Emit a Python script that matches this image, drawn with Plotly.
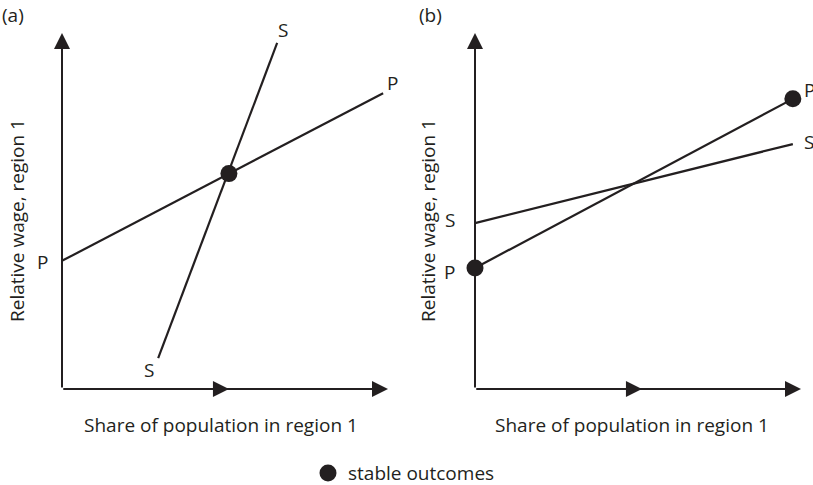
import plotly.graph_objects as go

# ---- data (abstract diagram units: origin 0, axis length 10) ----
# Panel (a)
a_P_x = [0.0, 9.85]
a_P_y = [3.6, 8.31]
a_S_x = [2.95, 6.6]
a_S_y = [0.87, 9.72]
a_stable_x = [5.12]
a_stable_y = [6.05]
# Panel (b)
b_P_x = [0.0, 9.75]
b_P_y = [3.40, 8.15]
b_S_x = [0.0, 9.75]
b_S_y = [4.66, 6.88]
b_stable_x = [0.0, 9.75]
b_stable_y = [3.40, 8.15]

axis_len = 10.0
mid_arrow = 5.12
x_title = "Share of population in region 1"
y_title = "Relative wage, region 1"
legend_label = "stable outcomes"

INK = "#231f20"
FONT = "Open Sans"
FS = 19
W, H = 813, 485

# pixel geometry
ox_a, ox_b, oy = 62, 475, 389
sx, sy = 32.6, 35.6
xr = [-1.2, 10.3]
yr = [-0.8, 10.3]


def dom_x(ox):
    return [(ox + xr[0] * sx) / W, (ox + xr[1] * sx) / W]


ydom = [1 - (oy - yr[0] * sy) / H, 1 - (oy - yr[1] * sy) / H]

fig = go.Figure()

line_style = dict(color=INK, width=2.2)
mk = dict(color=INK, size=17)

fig.add_trace(go.Scatter(x=a_P_x, y=a_P_y, mode="lines", line=line_style, xaxis="x", yaxis="y", hoverinfo="skip"))
fig.add_trace(go.Scatter(x=a_S_x, y=a_S_y, mode="lines", line=line_style, xaxis="x", yaxis="y", hoverinfo="skip"))
fig.add_trace(go.Scatter(x=a_stable_x, y=a_stable_y, mode="markers", marker=mk, xaxis="x", yaxis="y",
                         cliponaxis=False))
fig.add_trace(go.Scatter(x=b_P_x, y=b_P_y, mode="lines", line=line_style, xaxis="x2", yaxis="y2", hoverinfo="skip"))
fig.add_trace(go.Scatter(x=b_S_x, y=b_S_y, mode="lines", line=line_style, xaxis="x2", yaxis="y2", hoverinfo="skip"))
fig.add_trace(go.Scatter(x=b_stable_x, y=b_stable_y, mode="markers", marker=mk, xaxis="x2", yaxis="y2",
                         cliponaxis=False))

# key: marker swatch on a small hidden axis at the bottom of the figure
key_px, key_py = 328, 473
fig.add_trace(go.Scatter(x=[key_px / W], y=[0.5], mode="markers", marker=mk, xaxis="x3", yaxis="y3",
                         cliponaxis=False, hoverinfo="skip"))

ax_common = dict(visible=False, showgrid=False, zeroline=False, fixedrange=True)
key_h = 20
fig.update_layout(
    width=W, height=H,
    margin=dict(l=0, r=0, t=0, b=0),
    paper_bgcolor="white", plot_bgcolor="white",
    font=dict(family=FONT, color=INK, size=FS),
    showlegend=False,
    xaxis=dict(domain=dom_x(ox_a), range=xr, anchor="y", **ax_common),
    yaxis=dict(domain=ydom, range=yr, anchor="x", **ax_common),
    xaxis2=dict(domain=dom_x(ox_b), range=xr, anchor="y2", **ax_common),
    yaxis2=dict(domain=ydom, range=yr, anchor="x2", **ax_common),
    xaxis3=dict(domain=[0, 1], range=[0, 1], anchor="y3", **ax_common),
    yaxis3=dict(domain=[1 - (key_py + key_h / 2) / H, 1 - (key_py - key_h / 2) / H], range=[0, 1],
                anchor="x3", **ax_common),
)


def px_paper(px, py):
    return px / W, 1 - py / H


ann = []
for xa, ya, ox, xt_c, yt_x in (("x", "y", ox_a, 221, 17), ("x2", "y2", ox_b, 632, 428)):
    arrow = dict(xref=xa, yref=ya, axref=xa, ayref=ya, text="", showarrow=True,
                 arrowhead=2, arrowsize=1.6, arrowwidth=2, arrowcolor=INK, standoff=0)
    ann.append(dict(x=0, y=axis_len, ax=0, ay=0, **arrow))
    ann.append(dict(x=axis_len, y=0, ax=0, ay=0, **arrow))
    ann.append(dict(x=mid_arrow, y=0, ax=0, ay=0, **arrow))
    px, py = px_paper(xt_c, 425)
    ann.append(dict(xref="paper", yref="paper", x=px, y=py, xanchor="center", yanchor="middle",
                    text=x_title, showarrow=False))
    px, py = px_paper(yt_x, 221)
    ann.append(dict(xref="paper", yref="paper", x=px, y=py, xanchor="center", yanchor="middle",
                    text=y_title, showarrow=False, textangle=-90))

labels_a = [("S", 6.78, 10.08), ("P", 10.15, 8.6), ("P", -0.61, 3.57), ("S", 2.67, 0.53)]
labels_b = [("S", -0.77, 4.75), ("P", -0.77, 3.29), ("P", 10.25, 8.4), ("S", 10.25, 6.94)]
for t, x, y in labels_a:
    ann.append(dict(xref="x", yref="y", x=x, y=y, text=t, showarrow=False, xanchor="center",
                    yanchor="middle"))
for t, x, y in labels_b:
    ann.append(dict(xref="x2", yref="y2", x=x, y=y, text=t, showarrow=False, xanchor="center",
                    yanchor="middle"))

for t, pxx in (("(a)", 13), ("(b)", 430)):
    px, py = px_paper(pxx, 15)
    ann.append(dict(xref="paper", yref="paper", x=px, y=py, xanchor="center", yanchor="middle",
                    text=t, showarrow=False))

# key label
px, py = px_paper(346, key_py)
ann.append(dict(xref="paper", yref="paper", x=px, y=py, xanchor="left", yanchor="middle",
                text=legend_label, showarrow=False))

fig.update_layout(annotations=ann)
fig.write_html("out.html", config={"displayModeBar": False},
               post_script="document.body.style.margin='0';")
